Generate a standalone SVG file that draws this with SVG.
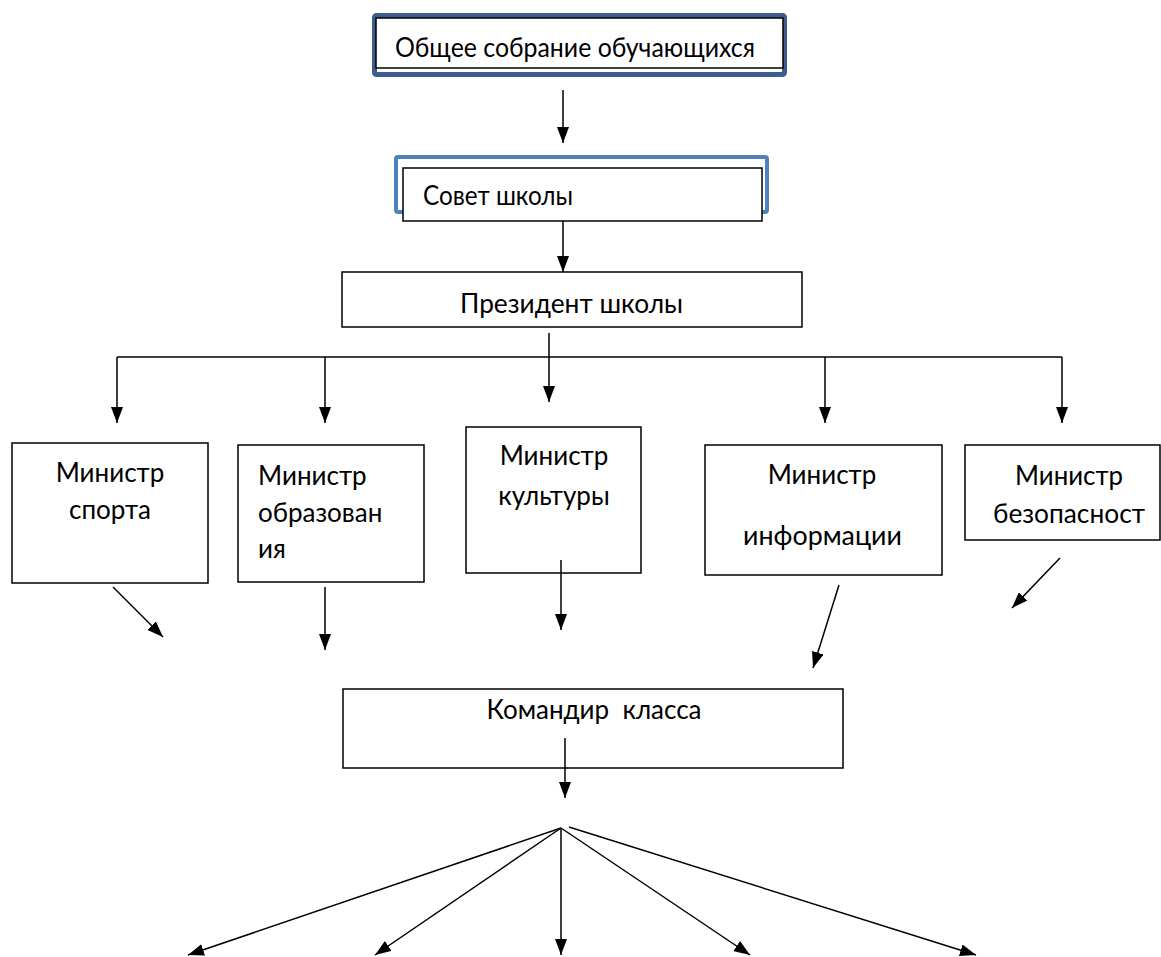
<svg xmlns="http://www.w3.org/2000/svg" width="1161" height="957" viewBox="0 0 1161 957">
<defs>
<marker id="ah" viewBox="0 0 16 12" refX="16" refY="6" markerWidth="16" markerHeight="12" markerUnits="userSpaceOnUse" orient="auto">
<path d="M0,0 L16,6 L0,12 z" fill="#000"/>
</marker>
<style>
.box{fill:#fff;stroke:#000;stroke-width:1.5}
.t{font-family:"Lato","Open Sans","Noto Sans",sans-serif;font-size:26px;fill:#000}
.m{text-anchor:middle}
.c{fill:none;stroke:#000;stroke-width:1.5}
.c line{marker-end:url(#ah)}
</style>
</defs>
<rect width="1161" height="957" fill="#fff"/>
<g id="n-assembly">
<rect x="374.5" y="15.5" width="410" height="59" fill="#fff" stroke="#3C5D8E" stroke-width="5" rx="2"/>
<rect x="376" y="18" width="407" height="50" class="box"/>
<text x="395" y="57" class="t" textLength="360" lengthAdjust="spacingAndGlyphs">Общее собрание обучающихся</text>
</g>
<g id="n-council">
<rect x="396" y="157" width="371" height="55" fill="#fff" stroke="#4F81BD" stroke-width="4" rx="2"/>
<rect x="403" y="168" width="359" height="53" class="box"/>
<text x="423" y="205" class="t" textLength="150" lengthAdjust="spacingAndGlyphs">Совет школы</text>
</g>
<g id="n-president">
<rect x="342" y="272" width="460" height="55" class="box"/>
<text x="460" y="313" class="t" textLength="223" lengthAdjust="spacingAndGlyphs">Президент школы</text>
</g>
<g id="n-sport">
<rect x="12" y="443" width="196" height="140" class="box"/>
<text x="110" y="482" class="t m">Министр</text>
<text x="110" y="519" class="t m">спорта</text>
</g>
<g id="n-education">
<rect x="238" y="445" width="186" height="137" class="box"/>
<text x="258" y="485" class="t">Министр</text>
<text x="258" y="522" class="t">образован</text>
<text x="258" y="558" class="t">ия</text>
</g>
<g id="n-culture">
<rect x="466" y="427" width="175" height="146" class="box"/>
<text x="554" y="465" class="t m">Министр</text>
<text x="554" y="505" class="t m">культуры</text>
</g>
<g id="n-info">
<rect x="705" y="445" width="237" height="130" class="box"/>
<text x="822" y="484" class="t m">Министр</text>
<text x="743" y="545" class="t" textLength="159" lengthAdjust="spacingAndGlyphs">информации</text>
</g>
<g id="n-security">
<rect x="965" y="445" width="195" height="95" class="box"/>
<text x="1015" y="485" class="t" textLength="108" lengthAdjust="spacingAndGlyphs">Министр</text>
<text x="993" y="523" class="t" textLength="152" lengthAdjust="spacingAndGlyphs">безопасност</text>
</g>
<g id="n-commander">
<rect x="343" y="689" width="500" height="79" class="box"/>
<text x="594" y="719" class="t m" xml:space="preserve">Командир  класса</text>
</g>
<g id="connectors" class="c">
<line x1="563" y1="90" x2="563" y2="143"/>
<line x1="563" y1="221" x2="563" y2="272"/>
<line x1="549" y1="333" x2="549" y2="402"/>
<polyline points="117,357 1062,357"/>
<line x1="117" y1="357" x2="117" y2="423"/>
<line x1="325" y1="357" x2="325" y2="423"/>
<line x1="825" y1="357" x2="825" y2="423"/>
<line x1="1062" y1="357" x2="1062" y2="423"/>
<line x1="113" y1="587" x2="163" y2="637"/>
<line x1="325" y1="587" x2="325" y2="650"/>
<line x1="561" y1="560" x2="561" y2="630"/>
<line x1="839" y1="585" x2="813" y2="668"/>
<line x1="1060" y1="558" x2="1012" y2="608"/>
<line x1="565" y1="738" x2="565" y2="798"/>
<line x1="561" y1="828" x2="188" y2="955"/>
<line x1="561" y1="828" x2="375" y2="955"/>
<line x1="561" y1="828" x2="561" y2="955"/>
<line x1="561" y1="828" x2="750" y2="955"/>
<line x1="569" y1="827" x2="976" y2="955"/>
</g>
</svg>
